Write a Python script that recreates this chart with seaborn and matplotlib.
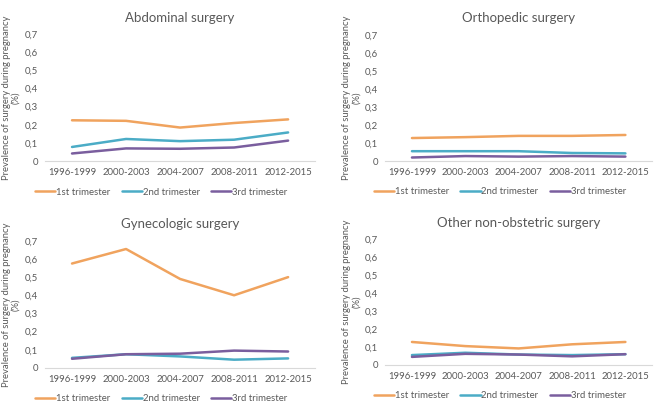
import numpy as np
import pandas as pd
import matplotlib
matplotlib.use("Agg")
import matplotlib.pyplot as plt
import seaborn as sns

# data
periods = ["1996-1999", "2000-2003", "2004-2007", "2008-2011", "2012-2015"]
trimesters = ["1st trimester", "2nd trimester", "3rd trimester"]

abdominal_1st = [0.225, 0.222, 0.185, 0.210, 0.230]
abdominal_2nd = [0.078, 0.122, 0.110, 0.118, 0.158]
abdominal_3rd = [0.042, 0.070, 0.068, 0.075, 0.113]

ortho_1st = [0.128, 0.133, 0.140, 0.140, 0.145]
ortho_2nd = [0.055, 0.055, 0.055, 0.045, 0.043]
ortho_3rd = [0.020, 0.028, 0.025, 0.028, 0.025]

gyn_1st = [0.575, 0.655, 0.490, 0.400, 0.500]
gyn_2nd = [0.055, 0.075, 0.063, 0.045, 0.052]
gyn_3rd = [0.050, 0.075, 0.078, 0.095, 0.090]

other_1st = [0.128, 0.105, 0.092, 0.115, 0.128]
other_2nd = [0.055, 0.068, 0.058, 0.055, 0.060]
other_3rd = [0.045, 0.062, 0.058, 0.048, 0.060]

titles = ["Abdominal surgery", "Orthopedic surgery",
          "Gynecologic surgery", "Other non-obstetric surgery"]
panels = [
    [abdominal_1st, abdominal_2nd, abdominal_3rd],
    [ortho_1st, ortho_2nd, ortho_3rd],
    [gyn_1st, gyn_2nd, gyn_3rd],
    [other_1st, other_2nd, other_3rd],
]

colors = ["#F0A35E", "#4BACC6", "#7A5E9E"]
ytick_vals = [0, 0.1, 0.2, 0.3, 0.4, 0.5, 0.6, 0.7]
ytick_labels = ["0", "0,1", "0,2", "0,3", "0,4", "0,5", "0,6", "0,7"]

sns.set_style("white")
plt.rcParams["font.family"] = ["Lato", "DejaVu Sans"]

fig = plt.figure(figsize=(6.62, 4.11), dpi=100)

# axes boxes (left, bottom, width, height)
boxes = [
    [0.068, 0.608, 0.408, 0.309],
    [0.582, 0.608, 0.403, 0.307],
    [0.068, 0.105, 0.408, 0.309],
    [0.582, 0.112, 0.403, 0.306],
]

text_col = "#595959"

for box, title, series in zip(boxes, titles, panels):
    ax = fig.add_axes(box)
    rows = []
    for tri, vals in zip(trimesters, series):
        for p, v in zip(periods, vals):
            rows.append({"period": p, "trimester": tri, "value": v})
    df = pd.DataFrame(rows)
    sns.lineplot(data=df, x="period", y="value", hue="trimester",
                 palette=colors, linewidth=1.8, ax=ax, sort=False)
    ax.set_xlim(-0.5, 4.5)
    ax.set_ylim(0, 0.7)
    ax.set_yticks(ytick_vals)
    ax.set_yticklabels(ytick_labels)
    ax.tick_params(axis="both", labelsize=6.9, colors=text_col, length=0, pad=5)
    ax.set_xlabel("")
    ax.set_ylabel("Prevalence of surgery during pregnancy\n(%)",
                  fontsize=6.8, color=text_col, labelpad=3, linespacing=1.1)
    ax.set_title(title, fontsize=9.5, color=text_col, pad=9)
    for s in ["top", "right", "left"]:
        ax.spines[s].set_visible(False)
    ax.spines["bottom"].set_color("#d9d9d9")
    ax.spines["bottom"].set_linewidth(0.8)
    ax.legend(loc="upper center", bbox_to_anchor=(0.43, -0.14), ncol=3,
              frameon=False, fontsize=6.9, handlelength=2.1,
              handletextpad=0.1, columnspacing=1.2, labelcolor=text_col)

fig.savefig("out.png", dpi=100)
